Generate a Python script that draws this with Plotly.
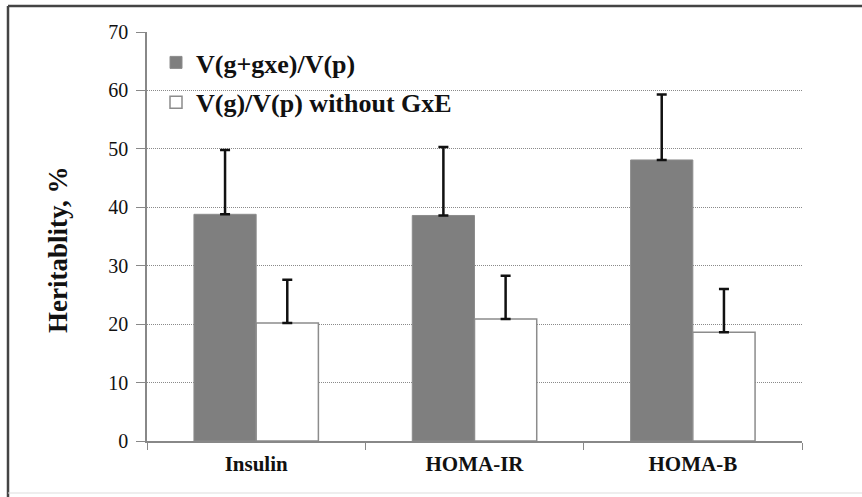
import plotly.graph_objects as go

categories = ["Insulin", "HOMA-IR", "HOMA-B"]
gxe_values = [38.8, 38.6, 48.1]
gxe_errors = [11.0, 11.7, 11.2]
g_values = [20.2, 20.9, 18.6]
g_errors = [7.4, 7.4, 7.4]
series_names = ["V(g+gxe)/V(p)", "V(g)/V(p) without GxE"]
y_ticks = [0, 10, 20, 30, 40, 50, 60, 70]
y_title = "Heritablity, %"

serif = "Liberation Serif"

fig = go.Figure()
fig.add_trace(go.Bar(
    x=categories, y=gxe_values, name=series_names[0], legendgroup="a",
    marker=dict(color="#7f7f7f", line=dict(color="#8c8c8c", width=1)),
    error_y=dict(type="data", array=gxe_errors, symmetric=False, arrayminus=[0, 0, 0],
                 color="#111111", thickness=2.5, width=5),
))
fig.add_trace(go.Bar(
    x=categories, y=g_values, name=series_names[1], legendgroup="b",
    marker=dict(color="#ffffff", line=dict(color="#8c8c8c", width=1.5)),
    error_y=dict(type="data", array=g_errors, symmetric=False, arrayminus=[0, 0, 0],
                 color="#111111", thickness=2.5, width=5),
))

def px_x(p):
    return (p - 147) / 655

def px_y(p):
    return (441 - p) / 409

fig.update_layout(
    width=862, height=497,
    margin=dict(l=147, r=60, t=32, b=56),
    paper_bgcolor="white", plot_bgcolor="white",
    barmode="group", bargap=0.43, bargroupgap=0,
    font=dict(family=serif, color="#111111"),
    showlegend=True,
    legend=dict(x=px_x(156), y=px_y(39), xanchor="left", yanchor="top",
                bgcolor="rgba(0,0,0,0)", tracegroupgap=3,
                font=dict(family=serif, size=26, color="#111111", weight="bold"),
                itemwidth=30),
    xaxis=dict(
        tickson="boundaries", ticks="outside", ticklen=7, tickcolor="#888888",
        showline=True, linecolor="#888888", linewidth=1.5,
        tickfont=dict(family=serif, size=21, color="#111111", weight="bold"),
        ticklabelstandoff=3,
        showgrid=False,
    ),
    yaxis=dict(
        range=[0, 70], tickvals=y_ticks, ticks="outside", ticklen=9, tickcolor="#888888",
        showline=True, linecolor="#888888", linewidth=1.5,
        showgrid=True, gridcolor="#8a8a8a", griddash="1px,1px", gridwidth=1,
        tickfont=dict(family=serif, size=20, color="#111111"),
        ticklabelstandoff=4,
        zeroline=False,
    ),
    annotations=[
        dict(text=y_title, xref="paper", yref="paper", x=px_x(58), y=px_y(250),
             xanchor="center", yanchor="middle", textangle=-90, showarrow=False,
             font=dict(family=serif, size=27, color="#111111", weight="bold")),
    ],
    shapes=[
        dict(type="line", xref="paper", yref="paper", x0=px_x(8), x1=px_x(8),
             y0=px_y(6), y1=px_y(497), line=dict(color="#444444", width=2.5)),
        dict(type="line", xref="paper", yref="paper", x0=px_x(8), x1=px_x(862),
             y0=px_y(6), y1=px_y(6), line=dict(color="#444444", width=2.5)),
        dict(type="line", xref="paper", yref="paper", x0=px_x(8), x1=px_x(862),
             y0=px_y(493), y1=px_y(493), line=dict(color="#dddddd", width=1)),
    ],
)

fig.write_html("out.html", config={"displayModeBar": False},
               post_script="document.body.style.margin='0px';")
